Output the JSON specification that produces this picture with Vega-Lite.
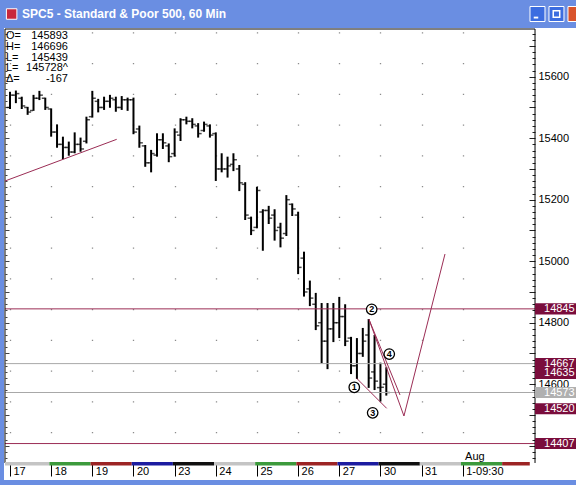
{
  "$schema": "https://vega.github.io/schema/vega-lite/v6.json",
  "width": 572,
  "height": 452,
  "autosize": {"type": "none"},
  "padding": {"left": 4, "top": 28, "right": 0, "bottom": 5},
  "background": "#6a8ee2",
  "config": {"view": {"fill": "white", "stroke": null}, "font": "Liberation Sans"},
  "resolve": {"axis": {"y": "independent"}, "scale": {"color": "independent"}},
  "datasets": {
    "bars": [
      {"i":0,"o":15500,"h":15551,"l":15495,"c":15540},
      {"i":1,"o":15540,"h":15555,"l":15514,"c":15545},
      {"i":2,"o":15530,"h":15535,"l":15495,"c":15505},
      {"i":3,"o":15500,"h":15502,"l":15476,"c":15485},
      {"i":4,"o":15490,"h":15541,"l":15489,"c":15530},
      {"i":5,"o":15530,"h":15554,"l":15524,"c":15540},
      {"i":6,"o":15530,"h":15532,"l":15492,"c":15500},
      {"i":7,"o":15495,"h":15497,"l":15405,"c":15420},
      {"i":8,"o":15420,"h":15445,"l":15369,"c":15380},
      {"i":9,"o":15380,"h":15405,"l":15332,"c":15370},
      {"i":10,"o":15370,"h":15389,"l":15343,"c":15355},
      {"i":11,"o":15355,"h":15419,"l":15351,"c":15380},
      {"i":12,"o":15380,"h":15402,"l":15356,"c":15365},
      {"i":13,"o":15390,"h":15470,"l":15383,"c":15460},
      {"i":14,"o":15470,"h":15554,"l":15467,"c":15530},
      {"i":15,"o":15520,"h":15528,"l":15484,"c":15500},
      {"i":16,"o":15500,"h":15535,"l":15492,"c":15520},
      {"i":17,"o":15520,"h":15541,"l":15499,"c":15530},
      {"i":18,"o":15525,"h":15535,"l":15486,"c":15500},
      {"i":19,"o":15500,"h":15537,"l":15492,"c":15525},
      {"i":20,"o":15525,"h":15532,"l":15489,"c":15525},
      {"i":21,"o":15525,"h":15532,"l":15413,"c":15420},
      {"i":22,"o":15430,"h":15441,"l":15369,"c":15385},
      {"i":23,"o":15375,"h":15378,"l":15307,"c":15320},
      {"i":24,"o":15320,"h":15362,"l":15289,"c":15350},
      {"i":25,"o":15345,"h":15416,"l":15340,"c":15395},
      {"i":26,"o":15395,"h":15416,"l":15365,"c":15385},
      {"i":27,"o":15375,"h":15383,"l":15322,"c":15340},
      {"i":28,"o":15350,"h":15432,"l":15340,"c":15420},
      {"i":29,"o":15410,"h":15465,"l":15391,"c":15460},
      {"i":30,"o":15460,"h":15470,"l":15445,"c":15455},
      {"i":31,"o":15455,"h":15465,"l":15432,"c":15445},
      {"i":32,"o":15440,"h":15449,"l":15402,"c":15415},
      {"i":33,"o":15425,"h":15454,"l":15421,"c":15445},
      {"i":34,"o":15440,"h":15445,"l":15402,"c":15410},
      {"i":35,"o":15415,"h":15419,"l":15261,"c":15300},
      {"i":36,"o":15300,"h":15351,"l":15289,"c":15300},
      {"i":37,"o":15300,"h":15340,"l":15272,"c":15310},
      {"i":38,"o":15315,"h":15351,"l":15293,"c":15330},
      {"i":39,"o":15300,"h":15313,"l":15228,"c":15255},
      {"i":40,"o":15250,"h":15257,"l":15134,"c":15150},
      {"i":41,"o":15140,"h":15145,"l":15085,"c":15100},
      {"i":42,"o":15110,"h":15242,"l":15107,"c":15230},
      {"i":43,"o":15160,"h":15169,"l":15034,"c":15165},
      {"i":44,"o":15165,"h":15180,"l":15121,"c":15140},
      {"i":45,"o":15150,"h":15169,"l":15067,"c":15100},
      {"i":46,"o":15110,"h":15125,"l":15045,"c":15075},
      {"i":47,"o":15090,"h":15215,"l":15082,"c":15200},
      {"i":48,"o":15185,"h":15188,"l":15147,"c":15170},
      {"i":49,"o":15150,"h":15161,"l":14958,"c":14980},
      {"i":50,"o":15010,"h":15031,"l":14885,"c":14900},
      {"i":51,"o":14910,"h":14937,"l":14854,"c":14880},
      {"i":52,"o":14860,"h":14897,"l":14776,"c":14790},
      {"i":53,"o":14800,"h":14864,"l":14669,"c":14740},
      {"i":54,"o":14740,"h":14864,"l":14649,"c":14780},
      {"i":55,"o":14780,"h":14864,"l":14737,"c":14800},
      {"i":56,"o":14800,"h":14884,"l":14750,"c":14820},
      {"i":57,"o":14820,"h":14860,"l":14724,"c":14740},
      {"i":58,"o":14750,"h":14754,"l":14633,"c":14660},
      {"i":59,"o":14660,"h":14750,"l":14617,"c":14700},
      {"i":60,"o":14700,"h":14783,"l":14689,"c":14740},
      {"i":61,"o":14760,"h":14812,"l":14588,"c":14620},
      {"i":62,"o":14640,"h":14760,"l":14581,"c":14610},
      {"i":63,"o":14589,"h":14670,"l":14544,"c":14590},
      {"i":64,"o":14600,"h":14655,"l":14563,"c":14573}
    ],
    "strip": [
      {"day":"17","s":-0.85,"e":6.7,"kind":"a"},
      {"day":"18","s":6.7,"e":13.7,"kind":"b"},
      {"day":"19","s":13.7,"e":20.7,"kind":"c"},
      {"day":"20","s":20.7,"e":27.7,"kind":"d"},
      {"day":"23","s":27.7,"e":34.7,"kind":"e"},
      {"day":"24","s":34.7,"e":41.7,"kind":"a"},
      {"day":"25","s":41.7,"e":48.7,"kind":"b"},
      {"day":"26","s":48.7,"e":55.7,"kind":"c"},
      {"day":"27","s":55.7,"e":62.7,"kind":"d"},
      {"day":"30","s":62.7,"e":69.7,"kind":"e"},
      {"day":"31","s":69.7,"e":76.7,"kind":"a"},
      {"day":"Aug 1","s":76.7,"e":83.7,"kind":"b"},
      {"day":"Aug 2","s":83.7,"e":88.4,"kind":"c"}
    ],
    "hlines": [
      {"p":14845,"kind":"level"},
      {"p":14407,"kind":"level"},
      {"p":14667,"kind":"grey"},
      {"p":14573,"kind":"grey"}
    ],
    "boxes": [
      {"p":14845,"t":"14845","kind":"level"},
      {"p":14667,"t":"14667","kind":"level"},
      {"p":14635,"t":"14635","kind":"level"},
      {"p":14573,"t":"14573","kind":"grey"},
      {"p":14520,"t":"14520","kind":"level"},
      {"p":14407,"t":"14407","kind":"level"}
    ],
    "trend": [
      {"g":"t1","n":1,"i":-0.85,"p":15260.8},
      {"g":"t1","n":2,"i":18.15,"p":15396.4},
      {"g":"t2","n":1,"i":58.96,"p":14619.2},
      {"g":"t2","n":2,"i":64.06,"p":14521.6},
      {"g":"v","n":1,"i":61.05,"p":14811},
      {"g":"v","n":2,"i":67.0,"p":14496.6},
      {"g":"v","n":3,"i":73.98,"p":15023.4},
      {"g":"t4","n":1,"i":61.05,"p":14811},
      {"g":"t4","n":2,"i":66.33,"p":14565}
    ],
    "circles": [
      {"n":"1","i":58.55,"p":14590},
      {"n":"2","i":61.51,"p":14843.6},
      {"n":"3","i":61.68,"p":14507},
      {"n":"4","i":64.5,"p":14698}
    ]
  },
  "layer": [
    {
      "data": {"name": "bars"},
      "mark": {"type": "rule", "color": "black", "strokeWidth": 2},
      "encoding": {
        "x": {"field": "i", "type": "quantitative", "scale": {"domain": [-1.02, 96.26], "nice": false, "zero": false},
          "axis": {"orient": "bottom", "offset": -17, "values": [0,7,14,21,28,35,42,49,56,63,70,77], "domain": false, "grid": true, "gridColor": "#8c8c8c", "gridDash": [1.3, 29.45], "gridDashOffset": 27.1, "gridWidth": 1.3, "tickSize": 13, "tickColor": "black", "tickWidth": 1,
            "labelExpr": "['17','18','19','20','23','24','25','26','27','30','31','1-09:30'][round(datum.value/7)]",
            "labelAlign": "left", "labelBaseline": "middle", "labelPadding": -5, "labelOffset": 3, "labelFontSize": 11, "labelColor": "black", "labelFlush": false, "labelBound": false, "labelOverlap": false, "title": null}},
        "y": {"field": "l", "type": "quantitative", "scale": {"domain": [14288.5, 15758.4], "nice": false, "zero": false},
          "axis": {"orient": "right", "offset": -41, "domain": false, "grid": false, "tickCount": 74, "tickColor": "#222", "tickWidth": 1,
            "tickSize": {"condition": {"test": "abs(datum.value % 100) < 0.5", "value": -6}, "value": -3},
            "tickOpacity": {"condition": {"test": "datum.value < 14350", "value": 0}, "value": 1},
            "labelExpr": "abs(datum.value % 200) < 0.5 ? format(datum.value, 'd') : ''",
            "labelFontSize": 11, "labelColor": "black", "labelPadding": 9, "labelOverlap": false, "labelBound": false, "labelFlush": false, "title": null}},
        "y2": {"field": "h"}
      }
    },
    {
      "data": {"name": "bars"},
      "mark": {"type": "tick", "orient": "horizontal", "size": 3, "thickness": 1.5, "xOffset": -2, "color": "black"},
      "encoding": {
        "x": {"field": "i", "type": "quantitative"},
        "y": {"field": "o", "type": "quantitative", "axis": null}
      }
    },
    {
      "data": {"name": "bars"},
      "mark": {"type": "tick", "orient": "horizontal", "size": 3, "thickness": 1.5, "xOffset": 2, "color": "black"},
      "encoding": {
        "x": {"field": "i", "type": "quantitative"},
        "y": {"field": "c", "type": "quantitative", "axis": null}
      }
    },
    {
      "data": {"name": "hlines"},
      "mark": {"type": "rule", "strokeWidth": 1},
      "encoding": {
        "y": {"field": "p", "type": "quantitative",
          "axis": {"orient": "left", "offset": -1, "domain": false, "grid": false, "labels": false, "tickCount": 74, "tickColor": "#444", "tickWidth": 1,
            "tickSize": {"condition": {"test": "abs(datum.value % 100) < 0.5", "value": -4}, "value": -2},
            "tickOpacity": {"condition": {"test": "datum.value < 14350", "value": 0}, "value": 1}, "title": null}},
        "x": {"datum": -0.85},
        "x2": {"datum": 89.29},
        "color": {"field": "kind", "type": "nominal", "scale": {"domain": ["level", "grey"], "range": ["#9b2d55", "#a8a8a8"]}, "legend": null}
      }
    },
    {
      "data": {"values": [{}]},
      "mark": {"type": "rule", "color": "black", "strokeWidth": 1},
      "encoding": {"x": {"datum": -0.85}, "y": {"datum": 15755.1, "axis": null}, "y2": {"datum": 14343.8}}
    },
    {
      "data": {"values": [{}]},
      "mark": {"type": "rule", "color": "black", "strokeWidth": 1},
      "encoding": {"x": {"datum": -0.85}, "x2": {"datum": 89.29}, "y": {"datum": 15755.1, "axis": null}}
    },
    {
      "data": {"values": [{}]},
      "mark": {"type": "rule", "color": "black", "strokeWidth": 1},
      "encoding": {"x": {"datum": 89.29}, "y": {"datum": 15755.1, "axis": null}, "y2": {"datum": 14343.8}}
    },
    {
      "data": {"name": "strip"},
      "mark": {"type": "rect"},
      "encoding": {
        "x": {"field": "s", "type": "quantitative"},
        "x2": {"field": "e"},
        "y": {"datum": 14347.0, "axis": null},
        "y2": {"datum": 14335.6},
        "color": {"field": "kind", "type": "nominal", "scale": {"domain": ["a","b","c","d","e"], "range": ["#c4c4c4", "#3c9a3c", "#9c2424", "#1c1ca0", "#101010"]}, "legend": null}
      }
    },
    {
      "data": {"name": "trend"},
      "mark": {"type": "line", "color": "#9b2d55", "strokeWidth": 1},
      "encoding": {
        "x": {"field": "i", "type": "quantitative"},
        "y": {"field": "p", "type": "quantitative", "axis": null},
        "detail": {"field": "g"},
        "order": {"field": "n"}
      }
    },
    {
      "data": {"name": "boxes"},
      "mark": {"type": "point", "shape": "M0,-0.27H2V0.27H0Z", "filled": true, "size": 1681, "opacity": 1},
      "encoding": {
        "x": {"datum": 89.29},
        "y": {"field": "p", "type": "quantitative", "axis": null},
        "color": {"field": "kind", "type": "nominal", "scale": {"domain": ["level", "grey"], "range": ["#7a0d3c", "#b0b0b0"]}, "legend": null}
      }
    },
    {
      "data": {"name": "boxes"},
      "mark": {"type": "text", "align": "left", "baseline": "middle", "dx": 9, "fontSize": 11, "color": "white"},
      "encoding": {
        "x": {"datum": 89.29},
        "y": {"field": "p", "type": "quantitative", "axis": null},
        "text": {"field": "t"}
      }
    },
    {
      "data": {"name": "circles"},
      "mark": {"type": "point", "shape": "circle", "size": 110, "filled": true, "fill": "white", "stroke": "black", "strokeWidth": 1.3, "opacity": 1},
      "encoding": {
        "x": {"field": "i", "type": "quantitative"},
        "y": {"field": "p", "type": "quantitative", "axis": null}
      }
    },
    {
      "data": {"name": "circles"},
      "mark": {"type": "text", "align": "center", "baseline": "middle", "fontSize": 9, "fontWeight": "bold", "color": "black"},
      "encoding": {
        "x": {"field": "i", "type": "quantitative"},
        "y": {"field": "p", "type": "quantitative", "axis": null},
        "text": {"field": "n"}
      }
    },
    {
      "data": {"values": [{}]},
      "mark": {"type": "text", "align": "left", "baseline": "top", "fontSize": 11, "lineHeight": 10.8, "color": "black", "text": ["O=", "H=", "L=", "L=", "Δ="]},
      "encoding": {"x": {"datum": -0.68}, "y": {"datum": 15751.9, "axis": null}}
    },
    {
      "data": {"values": [{}]},
      "mark": {"type": "text", "align": "right", "baseline": "top", "fontSize": 11, "lineHeight": 10.8, "color": "black", "text": ["145893", "146696", "145439", "145728^", "-167"]},
      "encoding": {"x": {"datum": 9.86}, "y": {"datum": 15751.9, "axis": null}}
    },
    {
      "data": {"values": [{}]},
      "mark": {"type": "text", "align": "left", "baseline": "middle", "fontSize": 11, "color": "black", "text": "Aug"},
      "encoding": {"x": {"datum": 77.4}, "y": {"datum": 14363.3, "axis": null}}
    },
    {
      "data": {"values": [{}]},
      "mark": {"type": "text", "align": "left", "baseline": "middle", "fontSize": 12, "fontWeight": "bold", "color": "white", "text": "SPC5 - Standard & Poor 500, 60 Min"},
      "encoding": {"x": {"datum": 2.04}, "y": {"datum": 15803.9, "axis": null}}
    },
    {
      "data": {"values": [{}]},
      "mark": {"type": "point", "shape": "square", "size": 110, "filled": true, "fill": "#c8283c", "stroke": "white", "strokeWidth": 1, "opacity": 1},
      "encoding": {"x": {"datum": 0.28}, "y": {"datum": 15803.9, "axis": null}}
    },
    {
      "data": {"values": [{}]},
      "mark": {"type": "point", "shape": "square", "size": 225, "filled": true, "fill": "#3c6de0", "stroke": "white", "strokeWidth": 1, "opacity": 1},
      "encoding": {"x": {"datum": 89.71}, "y": {"datum": 15803.9, "axis": null}}
    },
    {
      "data": {"values": [{}]},
      "mark": {"type": "point", "shape": "square", "size": 225, "filled": true, "fill": "#3c6de0", "stroke": "white", "strokeWidth": 1, "opacity": 1},
      "encoding": {"x": {"datum": 92.94}, "y": {"datum": 15803.9, "axis": null}}
    },
    {
      "data": {"values": [{}]},
      "mark": {"type": "point", "shape": "square", "size": 225, "filled": true, "fill": "#d9542c", "stroke": "white", "strokeWidth": 1, "opacity": 1},
      "encoding": {"x": {"datum": 96.17}, "y": {"datum": 15803.9, "axis": null}}
    },
    {
      "data": {"values": [{}]},
      "mark": {"type": "point", "shape": "M-0.5,0.35H0.1V0.6H-0.5Z", "size": 225, "filled": true, "fill": "white", "opacity": 1},
      "encoding": {"x": {"datum": 89.71}, "y": {"datum": 15803.9, "axis": null}}
    },
    {
      "data": {"values": [{}]},
      "mark": {"type": "point", "shape": "square", "size": 42, "filled": false, "stroke": "white", "strokeWidth": 1.5, "opacity": 1},
      "encoding": {"x": {"datum": 92.94}, "y": {"datum": 15803.9, "axis": null}}
    }
  ]
}
